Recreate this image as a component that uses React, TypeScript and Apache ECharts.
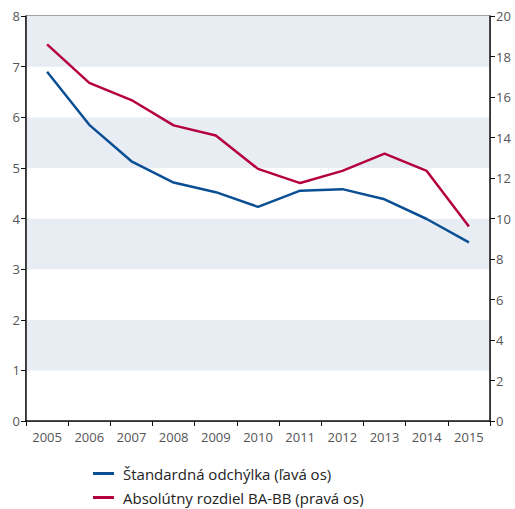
import React, { useEffect, useRef } from "react";
import * as echarts from "echarts";

const years = ["2005", "2006", "2007", "2008", "2009", "2010", "2011", "2012", "2013", "2014", "2015"];
const stdDev = [6.9, 5.85, 5.13, 4.71, 4.52, 4.23, 4.55, 4.58, 4.38, 3.99, 3.53];
const absDiff = [18.6, 16.7, 15.85, 14.6, 14.1, 12.45, 11.75, 12.35, 13.2, 12.35, 9.6];
const seriesNames = ["Štandardná odchýlka (ľavá os)", "Absolútny rozdiel BA-BB (pravá os)"];

const FONT = "'Open Sans', 'Noto Sans', sans-serif";

export default function App() {
  const ref = useRef<HTMLDivElement>(null);
  useEffect(() => {
    if (!ref.current) return;
    const chart = echarts.init(ref.current, undefined, { renderer: "svg" });
    const axisLabel = { color: "#555", fontSize: 13, fontFamily: FONT };
    const legendBase = {
      orient: "vertical",
      left: 93,
      itemWidth: 21,
      itemHeight: 3,
      icon: "rect",
      padding: 0,
      textStyle: { color: "#222", fontSize: 15, fontFamily: FONT, padding: [0, 0, 0, 4] },
    };
    chart.setOption({
      animation: false,
      grid: { left: 26, right: 25, top: 16, bottom: 88, show: true, borderColor: "#444", borderWidth: 1, backgroundColor: "transparent" },
      legend: [
        { ...legendBase, top: 466, data: [seriesNames[0]] },
        { ...legendBase, top: 490, data: [seriesNames[1]] },
      ],
      xAxis: {
        type: "category",
        data: years,
        boundaryGap: true,
        axisLine: { show: true, lineStyle: { color: "#111", width: 1.5 } },
        axisTick: { show: true, inside: false, length: 5, lineStyle: { color: "#111" } },
        axisLabel: { ...axisLabel, margin: 9, interval: 0 },
        splitLine: { show: false },
      },
      yAxis: [
        {
          type: "value",
          min: 0,
          max: 8,
          interval: 1,
          position: "left",
          axisLine: { show: true, lineStyle: { color: "#111", width: 1.5 } },
          axisTick: { show: true, inside: false, length: 5, lineStyle: { color: "#111" } },
          axisLabel: { ...axisLabel, margin: 6 },
          splitLine: { show: false },
          splitArea: { show: true, areaStyle: { color: ["#ffffff", "#e8edf4"] } },
        },
        {
          type: "value",
          min: 0,
          max: 20,
          interval: 2,
          position: "right",
          axisLine: { show: true, lineStyle: { color: "#111", width: 1.5 } },
          axisTick: { show: true, inside: false, length: 5, lineStyle: { color: "#111" } },
          axisLabel: { ...axisLabel, margin: 6 },
          splitLine: { show: false },
          splitArea: { show: false },
        },
      ],
      series: [
        {
          name: seriesNames[0],
          type: "line",
          yAxisIndex: 0,
          data: stdDev,
          showSymbol: false,
          symbol: "none",
          lineStyle: { color: "#0a4f94", width: 2.5 },
          itemStyle: { color: "#0a4f94" },
        },
        {
          name: seriesNames[1],
          type: "line",
          yAxisIndex: 1,
          data: absDiff,
          showSymbol: false,
          symbol: "none",
          lineStyle: { color: "#b5003f", width: 2.5 },
          itemStyle: { color: "#b5003f" },
        },
      ],
    });
    return () => chart.dispose();
  }, []);
  return <div ref={ref} style={{ width: 515, height: 509, position: "absolute", left: 0, top: 0 }} />;
}
